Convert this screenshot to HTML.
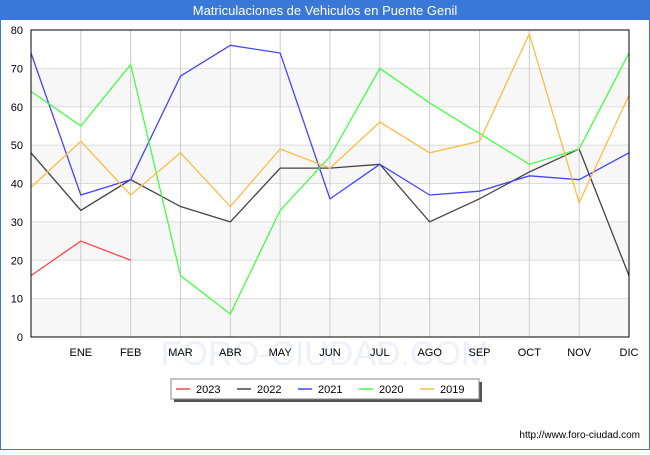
<!DOCTYPE html>
<html><head><meta charset="utf-8"><style>
body{margin:0;width:650px;height:450px;overflow:hidden;font-family:"Liberation Sans",sans-serif;background:#fff}
</style></head><body>
<svg width="650" height="450" xmlns="http://www.w3.org/2000/svg" font-family="Liberation Sans, sans-serif">
<rect x="0.5" y="0.5" width="649" height="449" fill="#fff" stroke="#3a78d8"/>
<rect x="0" y="0" width="650" height="20" fill="#3a78d8"/>
<text x="325" y="15" text-anchor="middle" fill="#fff" font-size="13">Matriculaciones de Vehiculos en Puente Genil</text>
<g id="grid"></g>
<text x="325" y="365" text-anchor="middle" fill="#eef0fa" font-size="34">FORO-CIUDAD.COM</text>
<g id="series"></g>
<rect x="31" y="30" width="598" height="307" fill="none" stroke="#000"/>
<g id="axes"></g>
<g>
<rect x="174" y="382" width="308" height="20" fill="#555"/>
<rect x="171" y="379" width="308" height="20" fill="#fff" stroke="#888"/>
<g id="legend"></g>
</g>
<text x="640" y="438" text-anchor="end" font-size="10" fill="#000">http://www.foro-ciudad.com</text>
</svg>
<script>
const months=["","ENE","FEB","MAR","ABR","MAY","JUN","JUL","AGO","SEP","OCT","NOV","DIC"];
const yTicks=[0,10,20,30,40,50,60,70,80];
const seriesNames=["2023","2022","2021","2020","2019"];
const seriesColors=["#ff4444","#444444","#4444ff","#44ff44","#ffbb44"];
const v2023=[16,25,20];
const v2022=[48,33,41,34,30,44,44,45,30,36,43,49,16];
const v2021=[74,37,41,68,76,74,36,45,37,38,42,41,48];
const v2020=[64,55,71,16,6,33,47,70,61,53,45,49,74];
const v2019=[39,51,37,48,34,49,44,56,48,51,79,35,63];
const allSeries=[v2023,v2022,v2021,v2020,v2019];
const NS="http://www.w3.org/2000/svg";
const L=31,R=629,T=30,B=337;
const xs=i=>L+i*(R-L)/(months.length-1);
const ys=v=>B-v*(B-T)/80;
function mk(tag,a,p){const e=document.createElementNS(NS,tag);for(const k in a)e.setAttribute(k,a[k]);p.appendChild(e);return e;}
const grid=document.getElementById('grid'),axes=document.getElementById('axes');
for(let i=0;i<yTicks.length-1;i++){if(i%2===0){const r=mk('rect',{x:L,y:ys(yTicks[i+1]),width:R-L,height:ys(yTicks[i])-ys(yTicks[i+1]),fill:'#f7f7f7'},grid);

}}
yTicks.forEach(t=>{const l=mk('line',{x1:L,x2:R,y1:ys(t),y2:ys(t),stroke:'#ddd'},grid);


const tx=mk('text',{x:L-8,y:ys(t)+4,'text-anchor':'end','font-size':'11',fill:'#000'},axes);tx.textContent=t;

});
months.forEach((m,i)=>{const l=mk('line',{x1:xs(i),x2:xs(i),y1:T,y2:B,stroke:'#ccc'},grid);


if(m){const tx=mk('text',{x:xs(i),y:356,'text-anchor':'middle','font-size':'11',fill:'#000'},axes);tx.textContent=m;

}});
const sg=document.getElementById('series');
allSeries.forEach((s,k)=>{const p=mk('polyline',{points:s.map((v,i)=>xs(i)+','+ys(v)).join(' '),fill:'none',stroke:seriesColors[k],'stroke-width':'1.3'},sg);

});
const lg=document.getElementById('legend');
seriesNames.forEach((n,k)=>{const x=176+k*61;
const l=mk('line',{x1:x,x2:x+14,y1:389,y2:389,stroke:seriesColors[k],'stroke-width':'1.5'},lg);


const t=mk('text',{x:x+20,y:393,'font-size':'11',fill:'#000'},lg);t.textContent=n;

});
</script>
</body></html>
